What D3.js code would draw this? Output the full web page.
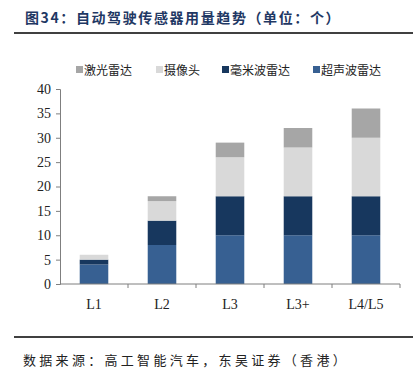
<!DOCTYPE html>
<html>
<head>
<meta charset="utf-8">
<script src="https://cdn.jsdelivr.net/npm/d3@7"></script>
<style>
body{margin:0;background:#fff;}
</style>
</head>
<body>
<div id="chart"></div>
<script>
// data
var levels = ["L1","L2","L3","L3+","L4/L5"];
var ultrasonic = [4, 8, 10, 10, 10];   // 超声波雷达
var mmwave = [1, 5, 8, 8, 8];          // 毫米波雷达
var camera = [1, 4, 8, 10, 12];        // 摄像头
var lidar = [0, 1, 3, 4, 6];           // 激光雷达
var yTicks = [0,5,10,15,20,25,30,35,40];

var seriesNames = ["超声波雷达","毫米波雷达","摄像头","激光雷达"];
var colors = {"超声波雷达":"#376092","毫米波雷达":"#17375e","摄像头":"#d9d9d9","激光雷达":"#a6a6a6"};
var legendOrder = ["激光雷达","摄像头","毫米波雷达","超声波雷达"];

var W = 413, H = 383;
var svg = d3.select("#chart").append("svg").attr("width",W).attr("height",H);

// title + rules
svg.append("text").attr("x",25).attr("y",23)
  .attr("font-family","Noto Sans CJK SC").attr("font-weight","bold")
  .attr("font-size","14px").attr("fill","#1f3864").attr("letter-spacing","1.6px")
  .text("图34：自动驾驶传感器用量趋势（单位：个）");
svg.append("line").attr("x1",14).attr("x2",W).attr("y1",33).attr("y2",33)
  .attr("stroke","#000").attr("stroke-width",1.5);
svg.append("line").attr("x1",14).attr("x2",W).attr("y1",337).attr("y2",337)
  .attr("stroke","#000").attr("stroke-width",1.5);
svg.append("text").attr("x",23).attr("y",365)
  .attr("font-family","Noto Sans CJK SC").attr("font-size","13px").attr("fill","#222")
  .attr("letter-spacing","3.3px")
  .text("数据来源：高工智能汽车，东吴证券（香港）");

var margin = {left:60, top:89};
var chartW = 340, chartH = 195;
var g = svg.append("g").attr("transform",`translate(${margin.left},${margin.top})`);

var table = levels.map(function(l,i){
  return {level:l, "超声波雷达":ultrasonic[i], "毫米波雷达":mmwave[i], "摄像头":camera[i], "激光雷达":lidar[i]};
});
var stacked = d3.stack().keys(seriesNames)(table);

var x = d3.scaleBand().domain(levels).range([0,chartW]).paddingInner(0.58).paddingOuter(0.29);
var y = d3.scaleLinear().domain([0,40]).range([chartH,0]);

g.selectAll("g.layer").data(stacked).enter().append("g")
  .attr("fill", d => colors[d.key])
  .selectAll("rect").data(d => d).enter().append("rect")
  .attr("x", d => x(d.data.level))
  .attr("width", x.bandwidth())
  .attr("y", d => y(d[1]))
  .attr("height", d => y(d[0]) - y(d[1]));

// y axis
var yaxis = d3.axisLeft(y).tickValues(yTicks).tickSize(4).tickPadding(5);
var yg = g.append("g").call(yaxis);
yg.select(".domain").attr("stroke","#7f7f7f");
yg.selectAll(".tick line").attr("stroke","#7f7f7f");
yg.selectAll("text").attr("font-family","Liberation Serif").attr("font-size","14px").attr("fill","#222");

// x axis
var xg = g.append("g").attr("transform",`translate(0,${chartH})`);
xg.append("line").attr("x1",0).attr("x2",chartW).attr("stroke","#7f7f7f");
var step = chartW / levels.length;
levels.forEach(function(l,i){
  xg.append("line").attr("x1",step*(i+1)).attr("x2",step*(i+1)).attr("y1",0).attr("y2",4).attr("stroke","#7f7f7f");
  xg.append("text").attr("x", x(l) + x.bandwidth()/2).attr("y",25)
    .attr("text-anchor","middle").attr("font-family","Liberation Serif").attr("font-size","14px").attr("fill","#222")
    .text(l);
});

// legend
var legX = [76, 156, 222, 313];
var leg = svg.append("g");
legendOrder.forEach(function(k,i){
  leg.append("rect").attr("x",legX[i]).attr("y",66).attr("width",7).attr("height",7).attr("fill",colors[k]);
  leg.append("text").attr("x",legX[i]+8).attr("y",74.5)
    .attr("font-family","Noto Sans CJK SC").attr("font-size","12px").attr("fill","#222").text(k);
});
</script>
</body>
</html>
